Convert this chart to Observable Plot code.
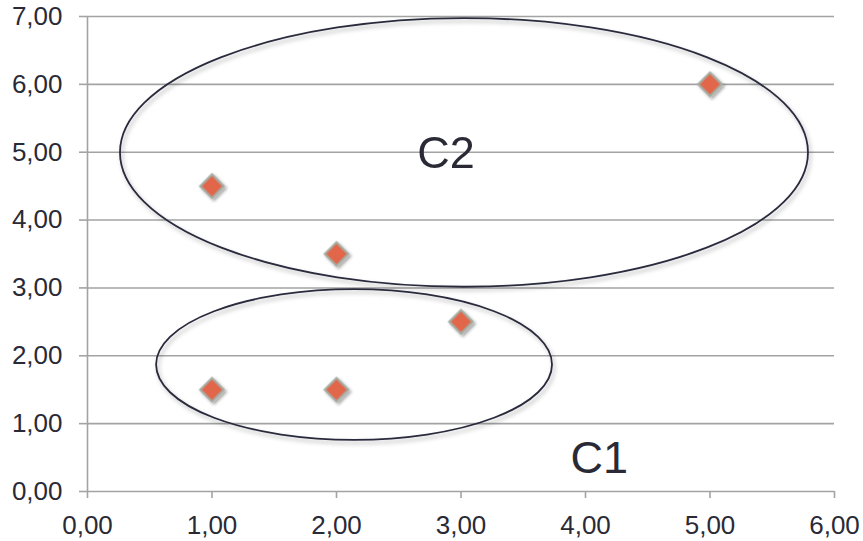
<!DOCTYPE html>
<html>
<head>
<meta charset="utf-8">
<script src="https://cdn.jsdelivr.net/npm/d3@7"></script>
<script src="https://cdn.jsdelivr.net/npm/@observablehq/plot@0.6"></script>
<style>
  html, body { margin: 0; padding: 0; background: #fff; }
  #chart svg { display: block; }
</style>
</head>
<body>
<div id="chart"></div>
<script>
// Data points
const xValues = [1, 2, 3, 1, 2, 5];
const yValues = [1.5, 1.5, 2.5, 4.5, 3.5, 6];

// Tick values
const xTicks = [0, 1, 2, 3, 4, 5, 6];
const yTicks = [0, 1, 2, 3, 4, 5, 6, 7];

// Cluster ellipses (data units)
const clusterNames = ["C1", "C2"];
const ellipseCx = [2.145, 3.028];
const ellipseCy = [1.864, 4.99];
const ellipseRx = [1.59, 2.763];
const ellipseRy = [1.11, 1.98];

// Cluster label positions (data units, text baseline)
const labelX = [4.11, 2.88];
const labelY = [0.28, 4.77];

const points = xValues.map((x, i) => ({x, y: yValues[i]}));
const ellipses = clusterNames.map((name, i) => ({name, cx: ellipseCx[i], cy: ellipseCy[i], rx: ellipseRx[i], ry: ellipseRy[i]}));
const labels = clusterNames.map((name, i) => ({name, x: labelX[i], y: labelY[i]}));

const fmt = d => d.toFixed(2).replace(".", ",");
const gridColor = "#a3a3a3";
const textColor = "#2a2a36";

const ellipseRender = (index, scales, values, dimensions, context) => {
  const g = d3.create("svg:g").attr("filter", "url(#shadowE)");
  for (const i of index) {
    const e = ellipses[i];
    const cx = scales.x(e.cx), cy = scales.y(e.cy);
    const rx = Math.abs(scales.x(e.cx + e.rx) - cx);
    const ry = Math.abs(scales.y(e.cy + e.ry) - cy);
    g.append("ellipse")
      .attr("cx", cx).attr("cy", cy).attr("rx", rx).attr("ry", ry)
      .attr("fill", "none").attr("stroke", "#2a2a3e").attr("stroke-width", 1.8);
  }
  return g.node();
};

const chart = Plot.plot({
  width: 863,
  height: 541,
  marginLeft: 87,
  marginRight: 29,
  marginTop: 16,
  marginBottom: 50,
  style: {fontFamily: "'Liberation Sans', Arial, sans-serif", fontSize: "26px", color: textColor, background: "#fff"},
  x: {domain: [0, 6], ticks: xTicks, tickFormat: fmt, tickSize: 7, tickPadding: 17, label: null},
  y: {domain: [0, 7], ticks: yTicks, tickFormat: fmt, tickSize: 8, tickPadding: 17, label: null},
  marks: [
    Plot.ruleY(yTicks, {stroke: gridColor, strokeWidth: 1.6}),
    Plot.ruleX([0], {stroke: gridColor, strokeWidth: 1.6}),
    Plot.dot(ellipses, {x: "cx", y: "cy", render: ellipseRender}),
    Plot.dot(points, {x: "x", y: "y", symbol: "diamond2", r: 10.6, fill: "#e2664a", stroke: "#a6ada3", strokeWidth: 2.2, fillOpacity: 1}),
    Plot.text(labels, {x: "x", y: "y", text: "name", fontSize: 45, fill: textColor, textAnchor: "middle", lineAnchor: "bottom"})
  ]
});

// shadows
const defs = d3.select(chart).insert("defs", ":first-child");
const f1 = defs.append("filter").attr("id", "shadowE").attr("x", "-10%").attr("y", "-10%").attr("width", "120%").attr("height", "130%");
f1.append("feDropShadow").attr("dx", 2).attr("dy", 3).attr("stdDeviation", 2).attr("flood-color", "#000").attr("flood-opacity", 0.3);
const f2 = defs.append("filter").attr("id", "shadowD").attr("x", "-50%").attr("y", "-50%").attr("width", "200%").attr("height", "200%");
f2.append("feDropShadow").attr("dx", 2).attr("dy", 2).attr("stdDeviation", 1.5).attr("flood-color", "#000").attr("flood-opacity", 0.35);
d3.select(chart).selectAll("g[aria-label='dot']").filter(function() { return this.querySelector("path"); }).attr("filter", "url(#shadowD)");
d3.select(chart).selectAll("g[aria-label='x-axis tick'], g[aria-label='y-axis tick']").attr("stroke", gridColor).attr("stroke-width", 1.6);
d3.select(chart).selectAll("g[aria-label='x-axis tick'] path, g[aria-label='y-axis tick'] path").attr("stroke", gridColor);

document.getElementById("chart").appendChild(chart);
</script>
</body>
</html>
